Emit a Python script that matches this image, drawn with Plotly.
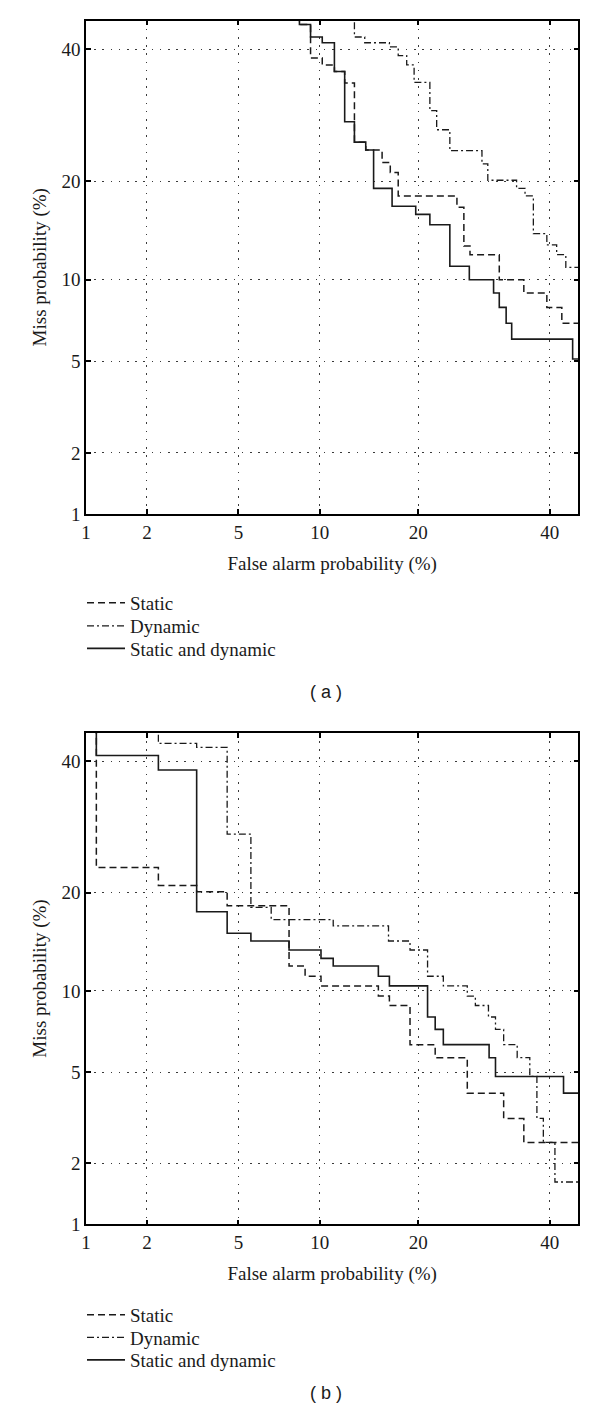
import plotly.graph_objects as go
from statistics import NormalDist

# ---------------- data (percent) ----------------
tick_values = [1, 2, 5, 10, 20, 40]
tick_labels = ["1", "2", "5", "10", "20", "40"]
axis_min, axis_max = 1, 45

# Panel (a)
a_static_fa = [8.5, 8.5, 9.3, 10.2, 11.2, 12.1, 13.0, 14.1, 15.8, 16.7, 17.6, 25.2, 26.2, 27.1, 31.6, 35.6, 39.5, 42.1, 45.5]
a_static_miss = [50, 44.3, 38.5, 37.3, 36.2, 34.3, 25.2, 24.1, 22.4, 21.1, 18.2, 16.9, 12.9, 12.1, 10.0, 9.0, 8.0, 7.0, 7.0]

a_dynamic_fa = [13.0, 13.0, 14.0, 16.6, 17.6, 18.6, 19.5, 21.5, 22.4, 24.2, 28.9, 29.8, 34.4, 35.8, 37.2, 39.5, 41.2, 42.8, 45.5]
a_dynamic_miss = [50, 42.1, 41.1, 40.4, 38.9, 37.3, 34.4, 29.9, 27.0, 24.0, 22.2, 20.1, 19.1, 18.2, 14.1, 13.0, 12.1, 11.0, 11.0]

a_both_fa = [8.5, 8.5, 9.3, 10.2, 11.2, 12.1, 13.0, 14.1, 14.9, 16.9, 19.7, 21.5, 24.2, 27.0, 30.7, 31.6, 32.7, 33.6, 44.0, 45.5]
a_both_miss = [50, 44.3, 42.1, 41.1, 36.2, 28.2, 25.2, 24.1, 19.1, 17.0, 16.1, 15.0, 11.1, 10.0, 9.0, 8.0, 7.0, 6.1, 5.1, 5.1]

# Panel (b)
b_static_fa = [1.13, 1.13, 2.26, 3.35, 4.5, 7.8, 8.9, 10.1, 15.4, 16.6, 19.0, 22.2, 26.7, 32.3, 35.6, 45.5]
b_static_miss = [50, 23.3, 20.9, 20.1, 18.4, 12.1, 11.2, 10.4, 9.6, 8.9, 6.4, 5.7, 4.1, 3.2, 2.5, 2.5]

b_dynamic_fa = [2.26, 2.26, 3.35, 4.5, 5.6, 6.7, 11.1, 16.5, 19.0, 21.2, 23.3, 26.7, 27.9, 29.9, 31.0, 32.3, 34.5, 36.6, 37.8, 38.9, 40.9, 45.5]
b_dynamic_miss = [50, 43.1, 42.4, 28.1, 18.2, 16.8, 16.1, 14.5, 13.6, 11.2, 10.4, 9.6, 8.9, 8.1, 7.3, 6.4, 5.7, 4.8, 3.2, 2.5, 1.63, 1.63]

b_both_fa = [1.13, 1.13, 2.26, 3.35, 4.5, 5.6, 7.8, 10.1, 11.1, 15.4, 16.6, 21.2, 22.2, 23.3, 30.0, 31.0, 42.4, 45.5]
b_both_miss = [50, 41.0, 38.5, 17.7, 15.3, 14.5, 13.6, 12.8, 12.1, 11.2, 10.4, 8.1, 7.3, 6.4, 5.7, 4.8, 4.1, 4.1]

series_names = ["Static", "Dynamic", "Static and dynamic"]
panel_captions = ["( a )", "( b )"]

# ---------------- DET (normal deviate) scale ----------------
_nd = NormalDist()


def probit(values):
    return [_nd.inv_cdf(v / 100.0) for v in values]


# page body has an 8px default margin: figure is sized so it fits the window
OFF = 8
W, H = 600 - OFF, 1423 - OFF


def px(xp):
    return (xp - OFF) / W


def py(yp):
    return 1 - (yp - OFF) / H


SERIF = "Liberation Serif"
INK = "#1a1a1a"
FS = 19

styles = {
    "Static": dict(color=INK, width=1.5, dash="7px,4px"),
    "Dynamic": dict(color=INK, width=1.3, dash="7px,3px,2px,3px"),
    "Static and dynamic": dict(color=INK, width=1.6, dash="solid"),
}

fig = go.Figure()

panels = [
    ("x", "y", ["legend", "legend2", "legend3"],
     [(a_static_fa, a_static_miss), (a_dynamic_fa, a_dynamic_miss), (a_both_fa, a_both_miss)]),
    ("x2", "y2", ["legend4", "legend5", "legend6"],
     [(b_static_fa, b_static_miss), (b_dynamic_fa, b_dynamic_miss), (b_both_fa, b_both_miss)]),
]

for xa, ya, legs, series in panels:
    for name, leg, (fa, miss) in zip(series_names, legs, series):
        fig.add_trace(go.Scatter(
            x=probit(fa), y=probit(miss), mode="lines", name=name,
            line=dict(shape="hv", **styles[name]),
            xaxis=xa, yaxis=ya, legend=leg, hoverinfo="skip",
        ))

rng = probit([axis_min, axis_max])
tv = probit(tick_values)


def axis(domain, anchor, title, standoff):
    return dict(
        domain=domain, anchor=anchor, range=rng,
        tickmode="array", tickvals=tv, ticktext=tick_labels,
        showgrid=True, gridcolor="#3a3a3a", gridwidth=1, griddash="1.6px,6.6px",
        zeroline=False,
        ticks="inside", ticklen=5, tickwidth=1.5, tickcolor="black",
        showline=True, linecolor="black", linewidth=1.6, mirror="ticks",
        tickfont=dict(family=SERIF, size=FS, color=INK),
        title=dict(text=title, font=dict(family=SERIF, size=FS, color=INK), standoff=standoff),
        automargin=False,
    )


xdom = [px(86), px(578.3)]
ya_dom = [py(514), py(20.5)]
yb_dom = [py(1224.3), py(732.7)]


def legend(center_y):
    return dict(x=px(87 - 5), y=py(center_y), xanchor="left", yanchor="middle",
                bgcolor="rgba(0,0,0,0)", font=dict(family=SERIF, size=FS, color=INK),
                itemwidth=38, tracegroupgap=0)


legend_centers = [603, 626, 648.5, 1315, 1337.5, 1360]
legend_keys = ["legend", "legend2", "legend3", "legend4", "legend5", "legend6"]

fig.update_layout(
    width=W, height=H,
    margin=dict(l=0, r=0, t=0, b=0),
    paper_bgcolor="white", plot_bgcolor="white",
    xaxis=axis(xdom, "y", "False alarm probability (%)", 15),
    yaxis=axis(ya_dom, "x", "Miss probability (%)", 10),
    xaxis2=axis(xdom, "y2", "False alarm probability (%)", 15),
    yaxis2=axis(yb_dom, "x2", "Miss probability (%)", 10),
    showlegend=True,
    annotations=[
        dict(text=cap, x=px(326), y=py(cy), xref="paper", yref="paper",
             showarrow=False, font=dict(family="Liberation Sans", size=18, color=INK))
        for cap, cy in zip(panel_captions, [692, 1405])
    ],
    **{k: legend(c) for k, c in zip(legend_keys, legend_centers)},
)

fig.write_html("out.html")
